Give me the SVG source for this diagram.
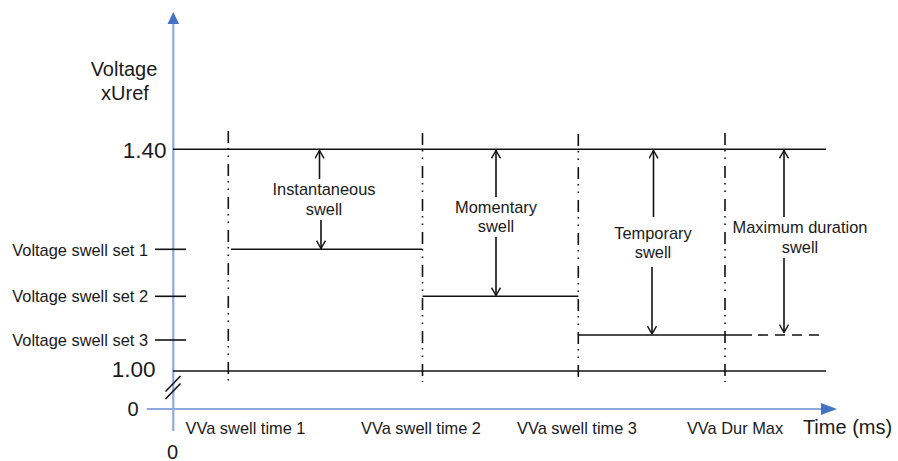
<svg xmlns="http://www.w3.org/2000/svg" width="898" height="461" viewBox="0 0 898 461">
<defs>
<style>
text{font-family:"Liberation Sans",Arial,sans-serif;fill:#1a1a1a}
.lbl{font-size:16.4px}
.big{font-size:22.5px}
.ax{font-size:20px}
.ln{stroke:#111;stroke-width:1.6;fill:none}
.vd{stroke:#111;stroke-width:1.6;fill:none;stroke-dasharray:12 5 1.5 6 1.5 7}
.blue{stroke:#8eaadb;stroke-width:2.2;fill:none}
.ah{stroke:#111;stroke-width:1.4;fill:none}
</style>
<marker id="ar" viewBox="0 0 10 10" refX="9.3" refY="5" markerWidth="10" markerHeight="10" markerUnits="userSpaceOnUse" orient="auto-start-reverse">
<path d="M1.5,0.5 L9.3,5 L1.5,9.5" class="ah"/>
</marker>
</defs>
<g id="axes">
<line class="blue" x1="173.3" y1="22" x2="173.3" y2="431"/>
<path d="M167.5,24 L173.3,12 L179.1,24 Z" fill="#4472c4"/>
<line class="blue" x1="147" y1="409" x2="825" y2="409"/>
<path d="M821,403 L837,409 L821,415 Z" fill="#4472c4"/>
<line class="ln" x1="165.5" y1="391.5" x2="180.5" y2="376" stroke-width="1.3"/>
<line class="ln" x1="165.5" y1="399" x2="180.5" y2="383.5" stroke-width="1.3"/>
</g>
<g id="levels">
<line class="ln" x1="173" y1="149.3" x2="826" y2="149.3"/>
<line class="ln" x1="173" y1="371" x2="826" y2="371"/>
<line class="ln" x1="231" y1="249.3" x2="422.5" y2="249.3"/>
<line class="ln" x1="422.5" y1="296.3" x2="578.3" y2="296.3"/>
<line class="ln" x1="578.3" y1="335" x2="752" y2="335"/>
<line class="ln" x1="752" y1="335" x2="825" y2="335" stroke-dasharray="10 7" stroke-dashoffset="-6"/>
<line class="ln" x1="155" y1="249.3" x2="186" y2="249.3"/>
<line class="ln" x1="155" y1="296.3" x2="186" y2="296.3"/>
<line class="ln" x1="155" y1="340" x2="186" y2="340"/>
</g>
<g id="verticals">
<line class="vd" x1="228.3" y1="131" x2="228.3" y2="382"/>
<line class="vd" x1="422.5" y1="133" x2="422.5" y2="382"/>
<line class="vd" x1="578.3" y1="134" x2="578.3" y2="382"/>
<line class="vd" x1="725" y1="133" x2="725" y2="382"/>
</g>
<g id="connectors">
<line class="ln" x1="319.5" y1="150.5" x2="319.5" y2="179" marker-start="url(#ar)"/>
<line class="ln" x1="321" y1="220" x2="321" y2="248.5" marker-end="url(#ar)"/>
<line class="ln" x1="496" y1="150.5" x2="496" y2="197" marker-start="url(#ar)"/>
<line class="ln" x1="496" y1="237" x2="496" y2="295.5" marker-end="url(#ar)"/>
<line class="ln" x1="653.5" y1="150.5" x2="653.5" y2="217" marker-start="url(#ar)"/>
<line class="ln" x1="652" y1="267" x2="652" y2="334" marker-end="url(#ar)"/>
<line class="ln" x1="784" y1="150.5" x2="784" y2="217" marker-start="url(#ar)"/>
<line class="ln" x1="784" y1="258" x2="784" y2="332.5" marker-end="url(#ar)"/>
</g>
<g id="labels-swell">
<text class="lbl" x="324" y="195" text-anchor="middle">Instantaneous</text>
<text class="lbl" x="324" y="215" text-anchor="middle">swell</text>
<text class="lbl" x="496" y="213" text-anchor="middle">Momentary</text>
<text class="lbl" x="496" y="232" text-anchor="middle">swell</text>
<text class="lbl" x="653" y="239" text-anchor="middle">Temporary</text>
<text class="lbl" x="653" y="258" text-anchor="middle">swell</text>
<text class="lbl" x="800" y="233" text-anchor="middle">Maximum duration</text>
<text class="lbl" x="800" y="253" text-anchor="middle">swell</text>
</g>
<g id="labels-y">
<text class="ax" x="124" y="76" text-anchor="middle">Voltage</text>
<text class="ax" x="125" y="100" text-anchor="middle">xUref</text>
<text class="big" x="166.5" y="157.5" text-anchor="end">1.40</text>
<text class="big" x="155.5" y="377" text-anchor="end">1.00</text>
<text class="lbl" x="148" y="256" text-anchor="end">Voltage swell set 1</text>
<text class="lbl" x="148" y="302" text-anchor="end">Voltage swell set 2</text>
<text class="lbl" x="148" y="345.5" text-anchor="end">Voltage swell set 3</text>
<text class="ax" x="138.5" y="415.5" text-anchor="end">0</text>
</g>
<g id="labels-x">
<text class="ax" x="172.5" y="458.5" text-anchor="middle">0</text>
<text class="lbl" x="245.5" y="434" text-anchor="middle">VVa swell time 1</text>
<text class="lbl" x="421" y="434" text-anchor="middle">VVa swell time 2</text>
<text class="lbl" x="577" y="434" text-anchor="middle">VVa swell time 3</text>
<text class="lbl" x="735" y="434" text-anchor="middle">VVa Dur Max</text>
<text class="ax" x="847.5" y="434" text-anchor="middle" font-size="19.5">Time (ms)</text>
</g>
</svg>
